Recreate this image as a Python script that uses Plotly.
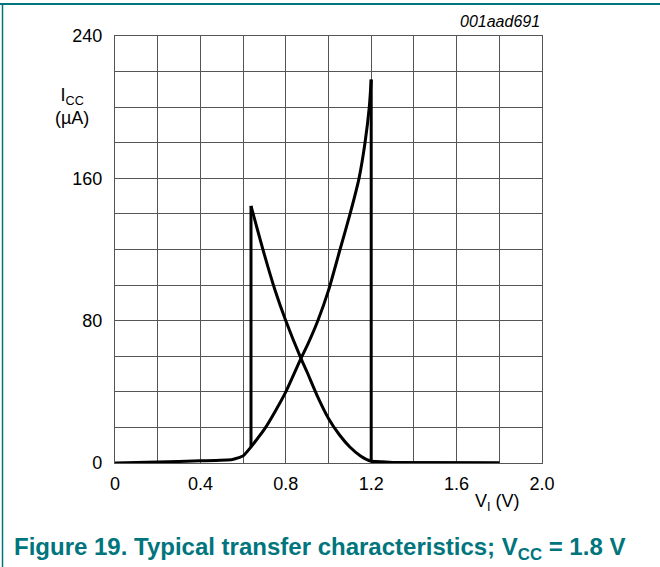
import plotly.graph_objects as go

# Rising input sweep (V_I increasing)
vi_up = [0.0, 0.2, 0.4, 0.55, 0.58, 0.6, 0.637, 0.65, 0.7, 0.75, 0.8, 0.871, 0.9, 0.95, 1.0, 1.054, 1.101, 1.143, 1.171, 1.191, 1.2, 1.2, 1.25, 1.3, 1.5, 1.8]
icc_up = [0.0, 0.6, 1.2, 2.0, 3.0, 4.0, 9.0, 11.0, 19.0, 29.0, 40.0, 58.8, 66.0, 80.0, 97.0, 120.0, 140.0, 160.0, 180.0, 200.0, 215.5, 1.0, 0.5, 0.3, 0.1, 0.0]

# Falling input sweep (V_I decreasing)
vi_down = [1.8, 1.5, 1.3, 1.25, 1.2, 1.15, 1.1, 1.05, 1.0, 0.95, 0.9, 0.871, 0.8, 0.75, 0.7, 0.637, 0.637]
icc_down = [0.0, 0.1, 0.3, 0.5, 1.0, 4.0, 9.0, 16.0, 25.0, 37.0, 51.0, 58.8, 80.0, 97.0, 117.0, 144.5, 9.0]

x_ticks = [0.0, 0.2, 0.4, 0.6, 0.8, 1.0, 1.2, 1.4, 1.6, 1.8, 2.0]
x_labels = ["0", "", "0.4", "", "0.8", "", "1.2", "", "1.6", "", "2.0"]
y_ticks = [0, 20, 40, 60, 80, 100, 120, 140, 160, 180, 200, 220, 240]
y_labels = ["0", "", "", "", "80", "", "", "", "160", "", "", "", "240"]

TEAL = "#00757d"
FONT = "Liberation Sans, Arial, sans-serif"

# index where each sweep switches abruptly (vertical jump)
up_jump = vi_up.index(1.2)          # top of the rising curve
down_jump = len(vi_down) - 2        # top of the falling curve

fig = go.Figure()


def add_seg(xs, ys, shape):
    fig.add_trace(go.Scatter(x=xs, y=ys, mode="lines",
                             line=dict(color="black", width=3, shape=shape,
                                       smoothing=0.6 if shape == "spline" else None),
                             showlegend=False, hoverinfo="skip"))


add_seg(vi_up[:up_jump + 1], icc_up[:up_jump + 1], "spline")
add_seg(vi_up[up_jump:up_jump + 2], icc_up[up_jump:up_jump + 2], "linear")
add_seg(vi_up[up_jump + 1:], icc_up[up_jump + 1:], "spline")
add_seg(vi_down[:down_jump + 1], icc_down[:down_jump + 1], "spline")
add_seg(vi_down[down_jump:], icc_down[down_jump:], "linear")

axis_common = dict(showgrid=True, gridcolor="#555555", gridwidth=1.2,
                   zeroline=False, showline=True, linecolor="#555555", linewidth=1.2,
                   mirror=True, ticks="", tickfont=dict(family=FONT, size=18, color="black"))

fig.update_xaxes(range=[0, 2.0], tickvals=x_ticks, ticktext=x_labels,
                 ticklabelstandoff=4, **axis_common)
fig.update_yaxes(range=[0, 240], tickvals=y_ticks, ticktext=y_labels,
                 ticklabelstandoff=8, **axis_common)

W, H = 660, 567
L, R, T, B = 115, 118, 36, 104
pw, ph = W - L - R, H - T - B


def px(x):
    return (x - L) / pw


def py(y):
    return (H - B - y) / ph


fig.update_layout(
    width=W, height=H,
    margin=dict(l=L, r=R, t=T, b=B),
    paper_bgcolor="white", plot_bgcolor="white",
    font=dict(family=FONT, color="black"),
    shapes=[
        dict(type="line", xref="paper", yref="paper", x0=px(0), x1=px(660), y0=py(4), y1=py(4),
             line=dict(color=TEAL, width=2)),
        dict(type="line", xref="paper", yref="paper", x0=px(2.5), x1=px(2.5), y0=py(4), y1=py(567),
             line=dict(color=TEAL, width=1.5)),
    ],
    annotations=[
        dict(text="I<sub>CC</sub><br>(µA)", xref="paper", yref="paper", x=px(72), y=py(107),
             xanchor="center", yanchor="middle", showarrow=False, align="center",
             font=dict(family=FONT, size=18, color="black")),
        dict(text="V<sub>I</sub> (V)", xref="paper", yref="paper", x=px(497), y=py(502),
             xanchor="center", yanchor="middle", showarrow=False,
             font=dict(family=FONT, size=18, color="black")),
        dict(text="<i>001aad691</i>", xref="paper", yref="paper", x=px(542), y=py(22),
             xanchor="right", yanchor="middle", showarrow=False,
             font=dict(family=FONT, size=16, color="black")),
        dict(text="<b>Figure 19. Typical transfer characteristics; V<sub>CC</sub> = 1.8 V</b>",
             xref="paper", yref="paper", x=px(12), y=py(548),
             xanchor="left", yanchor="middle", showarrow=False,
             font=dict(family=FONT, size=24, color=TEAL)),
    ],
)

fig.write_html("out.html", config={"displayModeBar": False},
               post_script="document.body.style.margin='0';document.body.style.padding='0';")
